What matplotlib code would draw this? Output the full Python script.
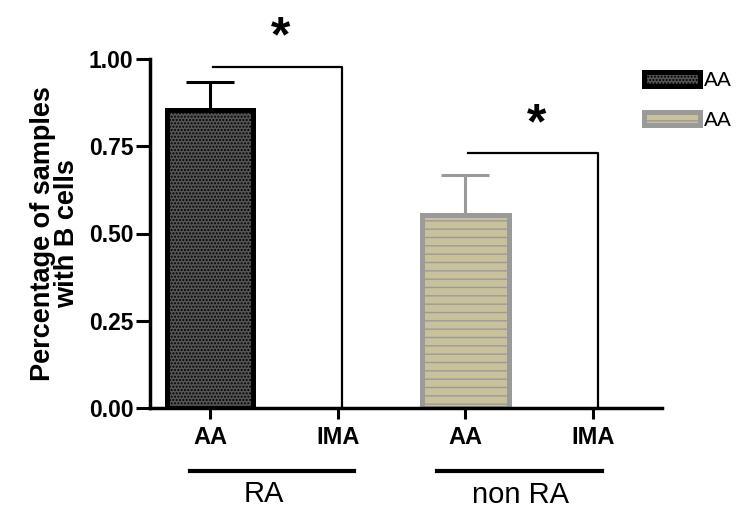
import matplotlib
matplotlib.use('Agg')
import matplotlib.pyplot as plt

plt.rcParams['font.family'] = 'Liberation Sans'
plt.rcParams['hatch.linewidth'] = 1.0

# data
tick_labels = ['AA', 'IMA', 'AA', 'IMA']
values = [0.855, 0.0, 0.553, 0.0]
errors = [0.08, 0.0, 0.115, 0.0]
groups = ['RA', 'non RA']
legend_labels = ['AA', 'AA']
bracket_pairs = [(0, 1), (2, 3)]
bracket_heights = [0.977, 0.731]

face = ['#555555', 'white', '#c9c19c', 'white']
edge = ['black', 'white', '#9a9a9a', 'white']
hatch = ['.....', '', '--', '']

fig = plt.figure(figsize=(7.41, 5.08), dpi=100)
ax = fig.add_axes([150/741, 1 - 408/508, 512/741, 349/508])

x = list(range(len(values)))
bars = []
for i in x:
    if values[i] == 0:
        bars.append(None)
        continue
    b = ax.bar(x[i], values[i], width=0.68, color=face[i], edgecolor=edge[i],
               hatch=hatch[i], linewidth=3.6, zorder=2)
    ax.errorbar(x[i], values[i], yerr=[[0], [errors[i]]], fmt='none',
                ecolor=edge[i], elinewidth=2.2, capsize=17, capthick=2.2, zorder=1)
    bars.append(b)

# significance brackets
for (a, b), h in zip(bracket_pairs, bracket_heights):
    ax.plot([x[a] + 0.02, x[b] + 0.035, x[b] + 0.035], [h, h, 0], color='black',
            lw=1.6, clip_on=False, zorder=3)
ax.text(0.55, 1.06, '*', fontsize=36, fontweight='bold', ha='center', va='center')
ax.text(2.56, 0.81, '*', fontsize=36, fontweight='bold', ha='center', va='center')

ax.set_xlim(-0.47, 3.54)
ax.set_ylim(0, 1.0)
ax.set_yticks([0, 0.25, 0.5, 0.75, 1.0])
ax.set_yticklabels(['0.00', '0.25', '0.50', '0.75', '1.00'])
ax.set_xticks(x)
ax.set_xticklabels(tick_labels)
for lab in ax.get_xticklabels() + ax.get_yticklabels():
    lab.set_fontweight('bold')
ax.tick_params(axis='y', labelsize=16.5, width=2.2, length=10, pad=2)
ax.tick_params(axis='x', labelsize=17, width=2.2, length=8, pad=5)

for s in ['top', 'right']:
    ax.spines[s].set_visible(False)
for s in ['left', 'bottom']:
    ax.spines[s].set_linewidth(2.5)

ax.set_ylabel('Percentage of samples\nwith B cells', fontsize=19.5, fontweight='bold',
              labelpad=6, linespacing=0.9)

# group underlines and labels
group_spans = [(-0.16, 1.13), (1.78, 3.07)]
group_text_x = [0.42, 2.43]
group_text_y = [-0.246, -0.248]
for (g0, g1), gx, gy, g in zip(group_spans, group_text_x, group_text_y, groups):
    ax.plot([g0, g1], [-0.18, -0.18], color='black', lw=3, clip_on=False)
    ax.text(gx, gy, g, fontsize=21, ha='center', va='center', clip_on=False)

handles = [bars[0][0], bars[2][0]]
fig.legend(handles, legend_labels, loc='upper left', bbox_to_anchor=(0.855, 0.88),
           frameon=False, fontsize=15, handlelength=2.7, handleheight=0.6,
           handletextpad=0.2, labelspacing=1.0, borderpad=0)

fig.savefig('out.png', dpi=100)
